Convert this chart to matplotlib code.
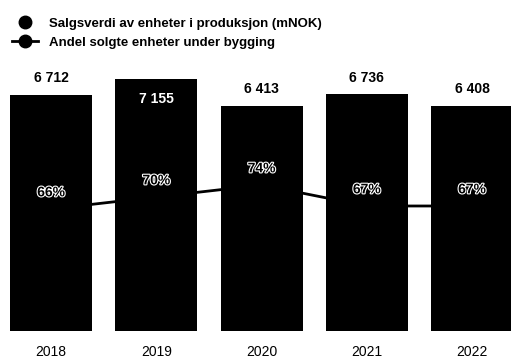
import matplotlib.pyplot as plt
import matplotlib.patheffects as pe
from matplotlib.lines import Line2D

plt.rcParams['font.family'] = ['Liberation Sans', 'DejaVu Sans']

years = ['2018', '2019', '2020', '2021', '2022']
sales_value = [6712, 7155, 6413, 6736, 6408]   # mNOK
share_sold = [66, 70, 74, 67, 67]             # percent

fig = plt.figure(figsize=(5.11, 3.6), dpi=100)
ax = fig.add_axes([0, 0.0806, 1, 0.7527])
ax2 = ax.twinx()

# line behind the bars
ax2.set_zorder(ax.get_zorder() - 1)
ax.patch.set_visible(False)

x = range(len(years))
bars = ax.bar(x, sales_value, width=0.78, color='black', zorder=2)
ax2.plot(x, share_sold, color='black', lw=2, marker='o', ms=7)

ax.set_xlim(-0.486, 4.37)
ax.set_ylim(0, 7708)
ax2.set_ylim(25.3, 115.7)

ymax = ax.get_ylim()[1]
for b, v in zip(bars, sales_value):
    label = f'{v:,}'.replace(',', ' ')
    cx = b.get_x() + b.get_width() / 2
    if v + 900 > ymax:
        ax.annotate(label, (cx, v), xytext=(0, -14), textcoords='offset points',
                    ha='center', va='center', color='white', fontsize=10,
                    fontweight='bold', zorder=5)
    else:
        ax.annotate(label, (cx, v), xytext=(0, 12), textcoords='offset points',
                    ha='center', va='center', color='black', fontsize=10,
                    fontweight='bold', zorder=5)

for i, p in zip(x, share_sold):
    ax.annotate(f'{p}%', (i, p), xycoords=ax2.transData, xytext=(0, 12),
                textcoords='offset points', ha='center', va='center',
                color='black', fontsize=10, fontweight='bold', zorder=6,
                path_effects=[pe.withStroke(linewidth=1.6, foreground='white')])

ax.set_xticks(list(x))
ax.set_xticklabels(years, fontsize=10)
ax.tick_params(axis='x', length=0, pad=10)
ax.set_yticks([])
ax2.set_yticks([])
for a in (ax, ax2):
    for s in a.spines.values():
        s.set_visible(False)

handles = [
    Line2D([], [], color='black', marker='o', ls='none', ms=9),
    Line2D([], [], color='black', marker='o', lw=2, ms=9),
]
labels = ['Salgsverdi av enheter i produksjon (mNOK)',
          'Andel solgte enheter under bygging']
fig.legend(handles, labels, loc='upper left', bbox_to_anchor=(0.0, 0.985),
           frameon=False, prop={'weight': 'bold', 'size': 9.5},
           handlelength=2.0, handletextpad=0.8, labelspacing=0.55,
           borderaxespad=0.5)

fig.savefig('out.png', dpi=100)
